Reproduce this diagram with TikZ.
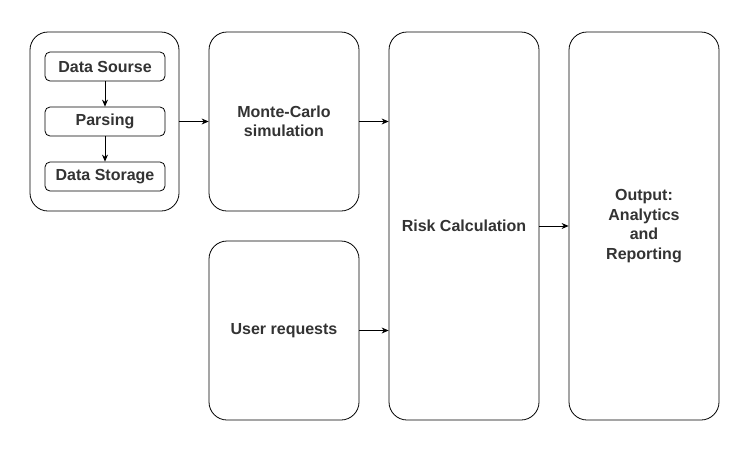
\documentclass[tikz,border=0pt]{standalone}
\usepackage{fontspec}
\setmainfont{Liberation Sans}
\usepackage{xcolor}
\usetikzlibrary{positioning, calc, arrows.meta}
\definecolor{TextGray}{RGB}{51,51,51}
\tikzset{
    groupbox/.style={
        draw, thick, rounded corners=18pt, fill=white,
        minimum width=149pt, minimum height=179pt, anchor=center
    },
    stepbox/.style={
        draw, thick, rounded corners=5pt, fill=white,
        minimum width=120pt, minimum height=29pt, anchor=center,
        inner sep=0pt,
        font=\fontsize{16}{19.5}\selectfont\bfseries\color{TextGray}
    },
    ptr/.style={
        -{Stealth[length=7pt,width=6pt]}, thick, black
    }
}

\begin{document}
\begin{tikzpicture}[
            x=1pt, y=-1pt,
            % Style cho khoi lon
            bigbox/.style={
                draw, thick, rounded corners=18pt, fill=white,
                minimum width=150pt, align=center,
                font=\fontsize{16}{19.5}\selectfont\bfseries\color{TextGray}
            }
        ]
            \useasboundingbox (0,0) rectangle (749,461);

            % --- 1. NHOM DU LIEU ---
            \node[groupbox] (grp) at (104.5,121.5) {};
            \node[stepbox] (src) at (105,66.5) {Data Sourse};
            \node[stepbox] (prs) at (105,121.5) {Parsing};
            \node[stepbox] (sto) at (105,176.5) {Data Storage};

            % --- 2. CAC KHOI CHINH ---
            \node[bigbox, minimum height=179pt] (mc) at (284,121.5) {Monte-Carlo\\simulation};
            \node[bigbox, minimum height=179pt] (usr) at (284,330.5) {User requests};
            \node[bigbox, minimum height=388pt] (risk) at (464,226) {Risk Calculation};
            \node[bigbox, minimum height=388pt] (out) at (644,226) {Output:\\Analytics\\and\\Reporting};

            % --- 3. MUI TEN ---
            \draw[ptr] (src) -- (prs);
            \draw[ptr] (prs) -- (sto);
            \draw[ptr] (grp.east) -- (mc.west);
            \draw[ptr] (mc.east) -- (mc.east -| risk.west);
            \draw[ptr] (usr.east) -- (usr.east -| risk.west);
            \draw[ptr] (risk.east) -- (out.west);

\end{tikzpicture}
\end{document}
